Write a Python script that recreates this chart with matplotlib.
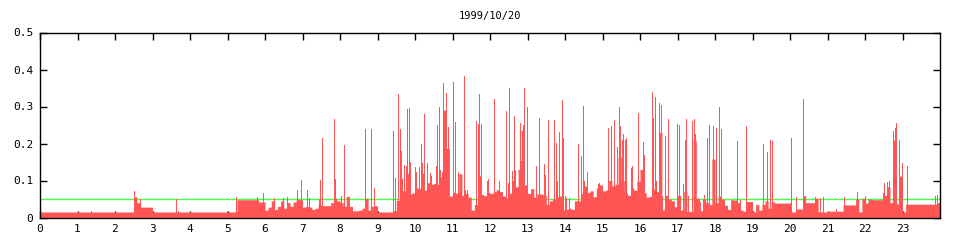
import numpy as np
import matplotlib
matplotlib.use("Agg")
import matplotlib.pyplot as plt

title = "1999/10/20"
hour_ticks = list(range(24))
y_ticks = [0, 0.1, 0.2, 0.3, 0.4, 0.5]
y_tick_labels = ["0", "0.1", "0.2", "0.3", "0.4", "0.5"]
threshold = 0.05

# 5-minute baseline load, one row per hour (12 values each)
base_load = [
    0.015, 0.015, 0.015, 0.015, 0.015, 0.015, 0.015, 0.015, 0.015, 0.015, 0.015, 0.015,
    0.015, 0.015, 0.015, 0.015, 0.015, 0.015, 0.015, 0.015, 0.015, 0.015, 0.015, 0.015,
    0.015, 0.015, 0.015, 0.015, 0.015, 0.015, 0.056, 0.040, 0.028, 0.028, 0.028, 0.028,
    0.015, 0.015, 0.015, 0.015, 0.015, 0.015, 0.015, 0.015, 0.015, 0.015, 0.015, 0.015,
    0.015, 0.015, 0.015, 0.015, 0.015, 0.015, 0.015, 0.015, 0.015, 0.015, 0.015, 0.015,
    0.015, 0.015, 0.015, 0.048, 0.048, 0.048, 0.048, 0.048, 0.048, 0.048, 0.042, 0.042,
    0.020, 0.028, 0.045, 0.022, 0.030, 0.045, 0.025, 0.040, 0.030, 0.042, 0.050, 0.048,
    0.028, 0.030, 0.028, 0.022, 0.025, 0.035, 0.032, 0.032, 0.032, 0.040, 0.052, 0.045,
    0.040, 0.030, 0.057, 0.030, 0.018, 0.018, 0.020, 0.025, 0.052, 0.020, 0.030, 0.032,
    0.015, 0.015, 0.015, 0.015, 0.015, 0.018, 0.046, 0.106, 0.072, 0.120, 0.064, 0.066,
    0.080, 0.078, 0.120, 0.074, 0.094, 0.090, 0.092, 0.090, 0.110, 0.290, 0.187, 0.058,
    0.068, 0.066, 0.118, 0.060, 0.065, 0.055, 0.020, 0.035, 0.113, 0.062, 0.059, 0.068,
    0.065, 0.070, 0.075, 0.070, 0.058, 0.052, 0.066, 0.100, 0.083, 0.130, 0.236, 0.088,
    0.065, 0.078, 0.055, 0.064, 0.063, 0.060, 0.035, 0.045, 0.050, 0.056, 0.058, 0.020,
    0.022, 0.025, 0.022, 0.045, 0.045, 0.065, 0.085, 0.068, 0.072, 0.056, 0.080, 0.088,
    0.072, 0.074, 0.100, 0.085, 0.090, 0.163, 0.100, 0.067, 0.060, 0.080, 0.074, 0.098,
    0.130, 0.067, 0.055, 0.057, 0.077, 0.070, 0.230, 0.020, 0.060, 0.050, 0.045, 0.029,
    0.060, 0.020, 0.070, 0.016, 0.016, 0.209, 0.052, 0.018, 0.050, 0.040, 0.035, 0.158,
    0.040, 0.058, 0.050, 0.033, 0.022, 0.048, 0.047, 0.040, 0.020, 0.017, 0.043, 0.043,
    0.015, 0.035, 0.020, 0.035, 0.045, 0.025, 0.042, 0.039, 0.039, 0.039, 0.039, 0.039,
    0.015, 0.015, 0.023, 0.023, 0.059, 0.040, 0.040, 0.040, 0.052, 0.015, 0.015, 0.015,
    0.017, 0.017, 0.017, 0.017, 0.017, 0.034, 0.034, 0.034, 0.034, 0.050, 0.015, 0.052,
    0.039, 0.050, 0.048, 0.048, 0.048, 0.048, 0.060, 0.083, 0.040, 0.209, 0.037, 0.112,
    0.015, 0.036, 0.036, 0.036, 0.036, 0.036, 0.036, 0.036, 0.036, 0.036, 0.036, 0.040,
]

# short peaks (hour of day, load)
spike_hour = [
    1.37, 2.53, 2.67, 3.65, 3.70, 5.00, 5.23, 5.79, 5.95,
    6.24, 6.49, 6.61, 6.86, 6.97,
    7.12, 7.19, 7.44, 7.47, 7.49, 7.52, 7.84, 7.87,
    8.04, 8.11, 8.12, 8.67, 8.85, 8.91,
    9.44, 9.493, 9.573, 9.60, 9.627, 9.707, 9.76, 9.813, 9.84, 9.867,
    10.0, 10.027, 10.133, 10.16, 10.213, 10.24, 10.32, 10.40, 10.453, 10.56,
    10.613, 10.64, 10.667, 10.72, 10.773, 10.827, 10.853, 10.88,
    11.04, 11.067, 11.093, 11.173, 11.307, 11.36, 11.413, 11.627, 11.653,
    11.68, 11.733, 11.76, 11.92, 11.973,
    12.107, 12.133, 12.24, 12.453, 12.48, 12.507, 12.613, 12.64, 12.693,
    12.80, 12.827, 12.88, 12.933, 12.987,
    13.253, 13.333, 13.44, 13.467, 13.573, 13.707, 13.76, 13.813, 13.84, 13.92, 13.947,
    14.0, 14.027, 14.107, 14.347, 14.427, 14.48, 14.507, 14.533, 14.613, 14.88, 14.933,
    15.173, 15.227, 15.307, 15.333, 15.387, 15.413, 15.44, 15.467, 15.52, 15.547,
    15.60, 15.627, 15.76, 15.813, 15.947, 15.973,
    16.08, 16.107, 16.133, 16.32, 16.347, 16.40, 16.453, 16.533, 16.56, 16.587,
    16.693, 16.747, 16.773, 16.987,
    17.04, 17.147, 17.173, 17.20, 17.253, 17.28, 17.413, 17.44, 17.467, 17.60,
    17.707, 17.813, 17.84, 17.947, 17.973,
    18.027, 18.133, 18.16, 18.613, 18.667, 18.827,
    19.28, 19.387, 19.493, 19.52,
    20.0, 20.053, 20.16, 20.347, 20.373, 20.693, 20.80, 20.88,
    21.253, 21.44, 21.787,
    22.0, 22.48, 22.533, 22.587, 22.64, 22.747, 22.773, 22.80, 22.853, 22.933, 22.987,
    23.013, 23.12, 23.893, 23.92,
]
spike_load = [
    0.017, 0.072, 0.050, 0.050, 0.017, 0.017, 0.056, 0.056, 0.066,
    0.052, 0.052, 0.056, 0.074, 0.101,
    0.074, 0.052, 0.050, 0.101, 0.074, 0.216, 0.266, 0.104,
    0.057, 0.097, 0.196, 0.239, 0.239, 0.080,
    0.234, 0.108, 0.334, 0.239, 0.180, 0.142, 0.138, 0.293, 0.297, 0.151,
    0.136, 0.124, 0.136, 0.200, 0.146, 0.280, 0.146, 0.120, 0.112, 0.140,
    0.250, 0.300, 0.128, 0.124, 0.364, 0.336, 0.293, 0.244,
    0.367, 0.259, 0.200, 0.124, 0.382, 0.074, 0.074, 0.052, 0.262,
    0.253, 0.334, 0.253, 0.100, 0.104,
    0.321, 0.113, 0.100, 0.289, 0.092, 0.349, 0.127, 0.275, 0.128,
    0.255, 0.154, 0.250, 0.349, 0.300,
    0.139, 0.268, 0.144, 0.115, 0.263, 0.263, 0.202, 0.100, 0.230, 0.318, 0.214,
    0.059, 0.052, 0.052, 0.199, 0.166, 0.301, 0.100, 0.097, 0.124, 0.090, 0.092,
    0.241, 0.246, 0.136, 0.263, 0.110, 0.190, 0.298, 0.246, 0.209, 0.227,
    0.209, 0.216, 0.135, 0.138, 0.283, 0.205,
    0.205, 0.128, 0.169, 0.338, 0.270, 0.325, 0.100, 0.310, 0.304, 0.059,
    0.221, 0.195, 0.266, 0.253,
    0.249, 0.090, 0.086, 0.210, 0.266, 0.059, 0.260, 0.265, 0.227, 0.043,
    0.060, 0.216, 0.250, 0.248, 0.169,
    0.243, 0.298, 0.239, 0.206, 0.047, 0.248,
    0.198, 0.178, 0.209, 0.206,
    0.039, 0.214, 0.056, 0.113, 0.320, 0.056, 0.052, 0.056,
    0.023, 0.056, 0.069,
    0.058, 0.066, 0.092, 0.097, 0.100, 0.052, 0.234, 0.241, 0.255, 0.209, 0.146,
    0.115, 0.138, 0.058, 0.060,
]

RED = "#ff5555"
GREEN = "#44ff44"
FONT = "DejaVu Sans Mono"

fig = plt.figure(figsize=(9.6, 2.4), dpi=100)
ax = fig.add_axes([40 / 960, 22.5 / 240, 900 / 960, 185 / 240])

bin_edges = np.arange(len(base_load) + 1) / 12.0
ax.fill_between(bin_edges, base_load + [base_load[-1]], step="post",
                color=RED, linewidth=0, antialiased=False, zorder=2)
ax.bar(spike_hour, spike_load, width=1 / 37.5, color=RED, linewidth=0,
       antialiased=False, zorder=2)
ax.axhline(threshold, color=GREEN, linewidth=1, zorder=1)

ax.set_xlim(0, 24)
ax.set_ylim(0, 0.5)
ax.set_xticks(hour_ticks)
ax.set_xticklabels([str(h) for h in hour_ticks], fontfamily=FONT, fontsize=8)
ax.set_yticks(y_ticks)
ax.set_yticklabels(y_tick_labels, fontfamily=FONT, fontsize=8)
ax.tick_params(direction="in", top=True, right=True, length=5, width=1,
               colors="black", pad=5)
for s in ax.spines.values():
    s.set_linewidth(1)
    s.set_color("black")
ax.set_title(title, fontfamily=FONT, fontsize=7.5, pad=10)

fig.savefig("out.png", dpi=100, facecolor="white")
